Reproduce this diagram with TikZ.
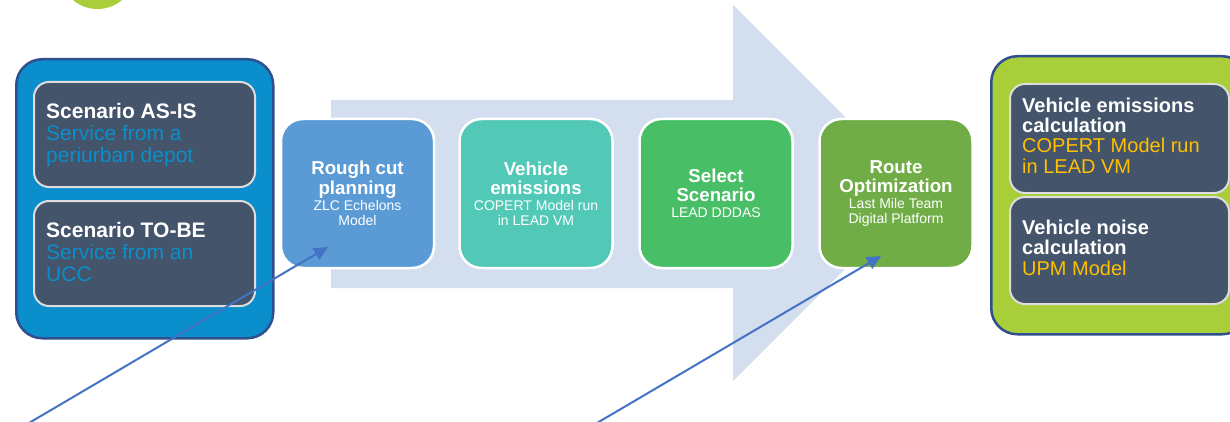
\documentclass[tikz,border=0pt]{standalone}
\usepackage{fontspec}
\setmainfont{Liberation Sans}
\usetikzlibrary{arrows.meta}

\definecolor{scenblue}{HTML}{0A8FCC}
\definecolor{frameblue}{HTML}{2F4F8F}
\definecolor{slate}{HTML}{44546A}
\definecolor{paleedge}{HTML}{DDDDDD}
\definecolor{flowbg}{HTML}{D3DEEF}
\definecolor{stepA}{HTML}{5B9BD5}
\definecolor{stepB}{HTML}{52C9B7}
\definecolor{stepC}{HTML}{48BF67}
\definecolor{stepD}{HTML}{70AD47}
\definecolor{lime}{HTML}{A8CE3A}
\definecolor{amber}{HTML}{FFC000}
\definecolor{pointer}{HTML}{4472C4}

\newcommand\stepsub{\fontsize{14}{15}\selectfont\mdseries}

\tikzset{
  groupbox/.style={draw=frameblue, line width=2.5pt, rounded corners=26pt,
    inner sep=0pt, anchor=north west},
  cardbox/.style={draw=paleedge, line width=2pt, fill=slate, rounded corners=15pt,
    inner sep=0pt, anchor=north west},
  stepbox/.style={draw=white, line width=2.5pt, rounded corners=22pt,
    minimum width=153pt, minimum height=149pt, inner sep=0pt,
    text=white, align=center, font=\fontsize{18.7}{19.5}\selectfont\bfseries},
  cardtext/.style={anchor=north west, inner sep=0pt, align=left, text=white},
  pointerline/.style={draw=pointer, line width=2pt,
    -{Triangle[length=14pt,width=13pt]}},
}

\begin{document}
\begin{tikzpicture}[x=1pt,y=-1pt]
\useasboundingbox (0,0) rectangle (1230,422);
\clip (0,0) rectangle (1230,422);

% partial disc at the top edge
\fill[lime] (97.5,-29) circle[radius=38];

% flow arrow in the background
\fill[flowbg] (331,100) -- (733,100) -- (733,5) -- (921,193)
  -- (733,381) -- (733,288) -- (331,288) -- cycle;

% scenarios group
\node[groupbox, fill=scenblue, minimum width=257pt, minimum height=279pt] (scen) at (15,58) {};
\node[cardbox, minimum width=221pt, minimum height=105pt] (asis) at (33,81) {};
\node[cardbox, minimum width=221pt, minimum height=105pt] (tobe) at (33,200) {};
\node[cardtext, font=\fontsize{21}{22}\selectfont] (asistext) at (46,102.6)
  {{\bfseries Scenario AS-IS}\\ \textcolor{scenblue}{Service from a}\\ \textcolor{scenblue}{periurban depot}};
\node[cardtext, font=\fontsize{21}{22}\selectfont] (tobetext) at (46,221.6)
  {{\bfseries Scenario TO-BE}\\ \textcolor{scenblue}{Service from an}\\ \textcolor{scenblue}{UCC}};

% process steps
\node[stepbox, fill=stepA] (rough) at (357.5,193.5)
  {Rough cut\\planning\\[-3.5pt]{\stepsub ZLC Echelons}\\[-4.5pt]{\stepsub Model}};
\node[stepbox, fill=stepB] (emis) at (536,193.5)
  {Vehicle\\emissions\\[-3.5pt]{\stepsub COPERT Model run}\\[-4.5pt]{\stepsub in LEAD VM}};
\node[stepbox, fill=stepC] (select) at (716,193.5)
  {Select\\Scenario\\[-3.5pt]{\stepsub LEAD DDDAS}};
\node[stepbox, fill=stepD] (route) at (896,193.5)
  {Route\\Optimization\\[-3.5pt]{\stepsub Last Mile Team}\\[-4.5pt]{\stepsub Digital Platform}};

% results group
\node[groupbox, fill=lime, minimum width=257pt, minimum height=278pt] (results) at (990,55) {};
\node[cardbox, minimum width=219pt, minimum height=109pt] (emcalc) at (1009,83) {};
\node[cardbox, minimum width=219pt, minimum height=107pt] (noise) at (1009,196) {};
\node[cardtext, font=\fontsize{20}{20.3}\selectfont] (emtext) at (1022,97.5)
  {{\bfseries Vehicle emissions}\\ {\bfseries calculation}\\ \textcolor{amber}{COPERT Model run}\\ \textcolor{amber}{in LEAD VM}};
\node[cardtext, font=\fontsize{20}{20.8}\selectfont] (noisetext) at (1022,219.5)
  {{\bfseries Vehicle noise}\\ {\bfseries calculation}\\ \textcolor{amber}{UPM Model}};

% pointers
\coordinate (tailA) at (29,423);
\coordinate (headA) at (328,247);
\coordinate (tailB) at (597,423);
\coordinate (headB) at (881,256);
\draw[pointerline] (tailA) -- (headA);
\draw[pointerline] (tailB) -- (headB);
\end{tikzpicture}
\end{document}
